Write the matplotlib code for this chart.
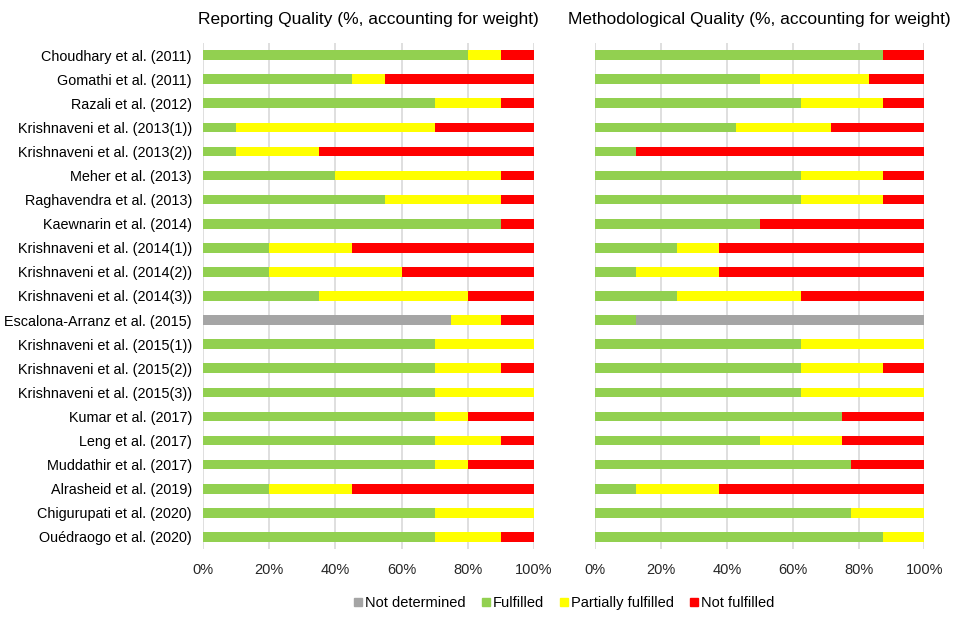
import matplotlib
matplotlib.use('Agg')
import matplotlib.pyplot as plt
from matplotlib.lines import Line2D
import numpy as np

plt.rcParams['font.family'] = ['Liberation Sans', 'DejaVu Sans']

studies = ['Choudhary et al. (2011)', 'Gomathi et al. (2011)', 'Razali et al. (2012)',
           'Krishnaveni et al. (2013(1))', 'Krishnaveni et al. (2013(2))', 'Meher et al. (2013)',
           'Raghavendra et al. (2013)', 'Kaewnarin et al. (2014)', 'Krishnaveni et al. (2014(1))',
           'Krishnaveni et al. (2014(2))', 'Krishnaveni et al. (2014(3))',
           'Escalona-Arranz et al. (2015)', 'Krishnaveni et al. (2015(1))',
           'Krishnaveni et al. (2015(2))', 'Krishnaveni et al. (2015(3))', 'Kumar et al. (2017)',
           'Leng et al. (2017)', 'Muddathir et al. (2017)', 'Alrasheid et al. (2019)',
           'Chigurupati et al. (2020)', 'Ouédraogo et al. (2020)']

# Reporting quality (%)
rep_nd = [0, 0, 0, 0, 0, 0, 0, 0, 0, 0, 0, 75, 0, 0, 0, 0, 0, 0, 0, 0, 0]
rep_ful = [80, 45, 70, 10, 10, 40, 55, 90, 20, 20, 35, 0, 70, 70, 70, 70, 70, 70, 20, 70, 70]
rep_part = [10, 10, 20, 60, 25, 50, 35, 0, 25, 40, 45, 15, 30, 20, 30, 10, 20, 10, 25, 30, 20]
rep_not = [10, 45, 10, 30, 65, 10, 10, 10, 55, 40, 20, 10, 0, 10, 0, 20, 10, 20, 55, 0, 10]

# Methodological quality (%)
met_ful = [87.5, 50, 62.5, 42.9, 12.5, 62.5, 62.5, 50, 25, 12.5, 25, 12.5, 62.5, 62.5, 62.5,
           75, 50, 77.8, 12.5, 77.8, 87.5]
met_part = [0, 33.3, 25, 28.6, 0, 25, 25, 0, 12.5, 25, 37.5, 0, 37.5, 25, 37.5,
            0, 25, 0, 25, 22.2, 12.5]
met_not = [12.5, 16.7, 12.5, 28.6, 87.5, 12.5, 12.5, 50, 62.5, 62.5, 37.5, 0, 0, 12.5, 0,
           25, 25, 22.2, 62.5, 0, 0]
met_nd = [0, 0, 0, 0, 0, 0, 0, 0, 0, 0, 0, 87.5, 0, 0, 0, 0, 0, 0, 0, 0, 0]

c_nd = '#A5A5A5'
c_ful = '#92D050'
c_part = '#FFFF00'
c_not = '#FF0000'

fig = plt.figure(figsize=(9.57, 6.19), dpi=100)
ax1 = fig.add_axes([203 / 957, 1 - 549 / 619, 331 / 957, 506 / 619])
ax2 = fig.add_axes([595 / 957, 1 - 549 / 619, 329.5 / 957, 506 / 619])

y = np.arange(len(studies))
h = 0.4


def stack(ax, segs):
    left = np.zeros(len(studies))
    for vals, col in segs:
        vals = np.array(vals, dtype=float)
        ax.barh(y, vals, left=left, height=h, color=col, edgecolor='none', zorder=3)
        left = left + vals
    ax.set_xlim(0, 100)
    ax.set_ylim(len(studies) - 0.5, -0.5)
    ax.set_xticks(np.arange(0, 101, 20))
    ax.set_xticklabels(['%d%%' % v for v in range(0, 101, 20)], fontsize=10.5, color='#262626')
    ax.xaxis.grid(True, color='#D9D9D9', linewidth=1.2, zorder=0)
    for s in ax.spines.values():
        s.set_visible(False)
    ax.tick_params(axis='both', length=0, pad=10)


# reporting: not determined sits in the fulfilled spot for Escalona
stack(ax1, [(rep_nd, c_nd), (rep_ful, c_ful), (rep_part, c_part), (rep_not, c_not)])
ax1.set_yticks(y)
ax1.set_yticklabels(studies, fontsize=10.4, color='#000000')
ax1.tick_params(axis='y', pad=8)
ax1.set_title('Reporting Quality (%, accounting for weight)', fontsize=12.5, pad=14)

stack(ax2, [(met_ful, c_ful), (met_part, c_part), (met_not, c_not), (met_nd, c_nd)])
ax2.set_yticks([])
ax2.set_title('Methodological Quality (%, accounting for weight)', fontsize=12.5, pad=14)

handles = [Line2D([], [], marker='s', linestyle='none', markersize=6, color=c)
           for c in [c_nd, c_ful, c_part, c_not]]
fig.legend(handles, ['Not determined', 'Fulfilled', 'Partially fulfilled', 'Not fulfilled'],
           loc='center', bbox_to_anchor=(564 / 957, 1 - 603 / 619), ncol=4, frameon=False,
           fontsize=10.5, handlelength=0.6, handletextpad=0.15, columnspacing=1.1)

fig.savefig('out.png', dpi=100)
